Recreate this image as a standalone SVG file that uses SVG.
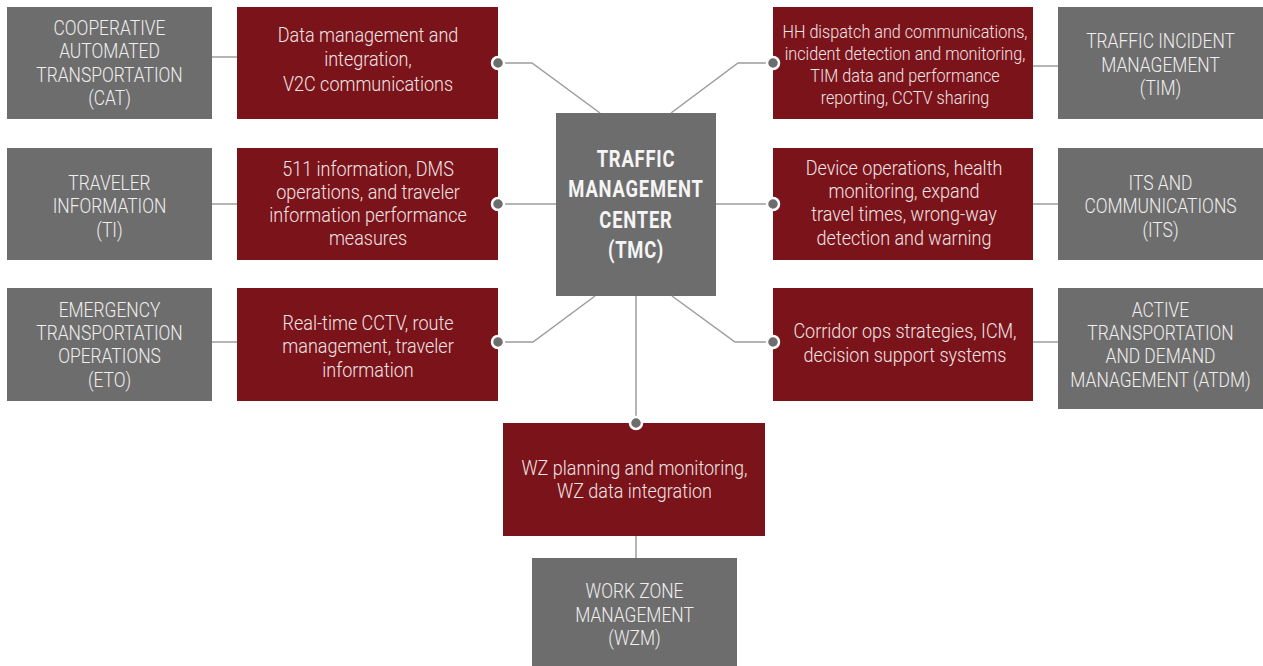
<svg xmlns="http://www.w3.org/2000/svg" width="1263" height="666" viewBox="0 0 1263 666">
  <defs>
    <style>
      .gray { fill: #6e6d6d; }
      .red { fill: #7b131b; }
      .link { fill: none; stroke: #9c9c9c; stroke-width: 1.5; }
      .dot { fill: #6e6d6d; stroke: #ffffff; stroke-width: 2.5; }
      .lbl { font-family: Roboto, "Liberation Sans", sans-serif; font-weight: 300; font-size: 20px; fill: #efefef; text-anchor: middle; }
      .fn { font-family: Roboto, "Liberation Sans", sans-serif; font-weight: 300; font-size: 20px; fill: #f0e4e4; text-anchor: middle; }
      .fn-sm { font-size: 18px; }
      .hub { font-family: Roboto, "Liberation Sans", sans-serif; font-weight: 700; font-size: 23px; fill: #f5f5f5; text-anchor: middle; letter-spacing: 1px; }
    </style>
  </defs>
  <rect width="1263" height="666" fill="#ffffff"/>

  <!-- hub -->
  <g id="tmc">
    <rect class="gray" x="556" y="113" width="160" height="183"/>
    <g transform="translate(636 0) scale(0.8 1)">
      <text class="hub"><tspan x="0" y="167">TRAFFIC</tspan><tspan x="0" y="197.5">MANAGEMENT</tspan><tspan x="0" y="228">CENTER</tspan><tspan x="0" y="258">(TMC)</tspan></text>
    </g>
  </g>

  <!-- left column: program areas -->
  <g id="cat">
    <rect class="gray" x="7" y="7" width="205" height="112"/>
    <g transform="translate(109.5 0) scale(0.87 1)">
      <text class="lbl"><tspan x="0" y="35">COOPERATIVE</tspan><tspan x="0" y="58.5">AUTOMATED</tspan><tspan x="0" y="82">TRANSPORTATION</tspan><tspan x="0" y="105.5">(CAT)</tspan></text>
    </g>
  </g>
  <g id="ti">
    <rect class="gray" x="7" y="148" width="205" height="112"/>
    <g transform="translate(109.5 0) scale(0.87 1)">
      <text class="lbl"><tspan x="0" y="190">TRAVELER</tspan><tspan x="0" y="213.5">INFORMATION</tspan><tspan x="0" y="237">(TI)</tspan></text>
    </g>
  </g>
  <g id="eto">
    <rect class="gray" x="7" y="288" width="205" height="113"/>
    <g transform="translate(109.5 0) scale(0.87 1)">
      <text class="lbl"><tspan x="0" y="317">EMERGENCY</tspan><tspan x="0" y="340">TRANSPORTATION</tspan><tspan x="0" y="363.5">OPERATIONS</tspan><tspan x="0" y="387">(ETO)</tspan></text>
    </g>
  </g>

  <!-- left column: TMC functions -->
  <g id="cat-functions">
    <rect class="red" x="237" y="7" width="261" height="112"/>
    <g transform="translate(368 0) scale(0.9 1)">
      <text class="fn"><tspan x="0" y="41.7">Data management and</tspan><tspan x="0" y="66.2">integration,</tspan><tspan x="0" y="90.7">V2C communications</tspan></text>
    </g>
  </g>
  <g id="ti-functions">
    <rect class="red" x="237" y="148" width="261" height="112"/>
    <g transform="translate(368 0) scale(0.9 1)">
      <text class="fn"><tspan x="0" y="176">511 information, DMS</tspan><tspan x="0" y="199">operations, and traveler</tspan><tspan x="0" y="222">information performance</tspan><tspan x="0" y="245">measures</tspan></text>
    </g>
  </g>
  <g id="eto-functions">
    <rect class="red" x="237" y="288" width="261" height="113"/>
    <g transform="translate(368 0) scale(0.9 1)">
      <text class="fn"><tspan x="0" y="330">Real-time CCTV, route</tspan><tspan x="0" y="353.5">management, traveler</tspan><tspan x="0" y="377">information</tspan></text>
    </g>
  </g>

  <!-- right column: TMC functions -->
  <g id="tim-functions">
    <rect class="red" x="773" y="7" width="260" height="112"/>
    <g transform="translate(905 0) scale(0.9 1)">
      <text class="fn fn-sm"><tspan x="0" y="38">HH dispatch and communications,</tspan><tspan x="0" y="60">incident detection and monitoring,</tspan><tspan x="0" y="82.5">TIM data and performance</tspan><tspan x="0" y="104.5">reporting, CCTV sharing</tspan></text>
    </g>
  </g>
  <g id="its-functions">
    <rect class="red" x="773" y="148" width="260" height="112"/>
    <g transform="translate(904 0) scale(0.9 1)">
      <text class="fn"><tspan x="0" y="175">Device operations, health</tspan><tspan x="0" y="198">monitoring, expand</tspan><tspan x="0" y="221.5">travel times, wrong-way</tspan><tspan x="0" y="245">detection and warning</tspan></text>
    </g>
  </g>
  <g id="atdm-functions">
    <rect class="red" x="773" y="288" width="260" height="113"/>
    <g transform="translate(905 0) scale(0.9 1)">
      <text class="fn"><tspan x="0" y="338">Corridor ops strategies, ICM,</tspan><tspan x="0" y="362">decision support systems</tspan></text>
    </g>
  </g>

  <!-- right column: program areas -->
  <g id="tim">
    <rect class="gray" x="1058" y="7" width="205" height="112"/>
    <g transform="translate(1160.5 0) scale(0.87 1)">
      <text class="lbl"><tspan x="0" y="48">TRAFFIC INCIDENT</tspan><tspan x="0" y="72">MANAGEMENT</tspan><tspan x="0" y="95.5">(TIM)</tspan></text>
    </g>
  </g>
  <g id="its">
    <rect class="gray" x="1058" y="148" width="205" height="112"/>
    <g transform="translate(1160.5 0) scale(0.87 1)">
      <text class="lbl"><tspan x="0" y="190">ITS AND</tspan><tspan x="0" y="213.5">COMMUNICATIONS</tspan><tspan x="0" y="237">(ITS)</tspan></text>
    </g>
  </g>
  <g id="atdm">
    <rect class="gray" x="1058" y="288" width="205" height="121"/>
    <g transform="translate(1160.5 0) scale(0.87 1)">
      <text class="lbl"><tspan x="0" y="317">ACTIVE</tspan><tspan x="0" y="340">TRANSPORTATION</tspan><tspan x="0" y="363.5">AND DEMAND</tspan><tspan x="0" y="387">MANAGEMENT (ATDM)</tspan></text>
    </g>
  </g>

  <!-- bottom: work zones -->
  <g id="wzm-functions">
    <rect class="red" x="503" y="423" width="262" height="113"/>
    <g transform="translate(634.5 0) scale(0.9 1)">
      <text class="fn"><tspan x="0" y="475">WZ planning and monitoring,</tspan><tspan x="0" y="498.5">WZ data integration</tspan></text>
    </g>
  </g>
  <g id="wzm">
    <rect class="gray" x="532" y="558" width="205" height="108"/>
    <g transform="translate(634.5 0) scale(0.87 1)">
      <text class="lbl"><tspan x="0" y="598.5">WORK ZONE</tspan><tspan x="0" y="622">MANAGEMENT</tspan><tspan x="0" y="645">(WZM)</tspan></text>
    </g>
  </g>

  <!-- connectors, drawn last so the end dots sit over the box edges -->
  <g id="connectors">
    <line class="link" x1="212" y1="57" x2="237" y2="57"/>
    <line class="link" x1="212" y1="204" x2="237" y2="204"/>
    <line class="link" x1="212" y1="342" x2="237" y2="342"/>
    <line class="link" x1="1033" y1="66" x2="1058" y2="66"/>
    <line class="link" x1="1033" y1="204" x2="1058" y2="204"/>
    <line class="link" x1="1033" y1="342" x2="1058" y2="342"/>
    <polyline class="link" points="499,63 532,63 600,113"/>
    <polyline class="link" points="773,63 738,63 671,113"/>
    <polyline class="link" points="499,204 556,204"/>
    <polyline class="link" points="773,204 716,204"/>
    <polyline class="link" points="498,342 533,342 595,296"/>
    <polyline class="link" points="772,342 735,342 672,296"/>
    <line class="link" x1="636" y1="296" x2="636" y2="423"/>
    <line class="link" x1="636" y1="536" x2="636" y2="558"/>
    <circle class="dot" cx="498" cy="63" r="6"/>
    <circle class="dot" cx="773" cy="63" r="6"/>
    <circle class="dot" cx="498" cy="204" r="6"/>
    <circle class="dot" cx="773" cy="204" r="6"/>
    <circle class="dot" cx="498" cy="342" r="6"/>
    <circle class="dot" cx="773" cy="342" r="6"/>
    <circle class="dot" cx="636" cy="423" r="6"/>
  </g>
</svg>
